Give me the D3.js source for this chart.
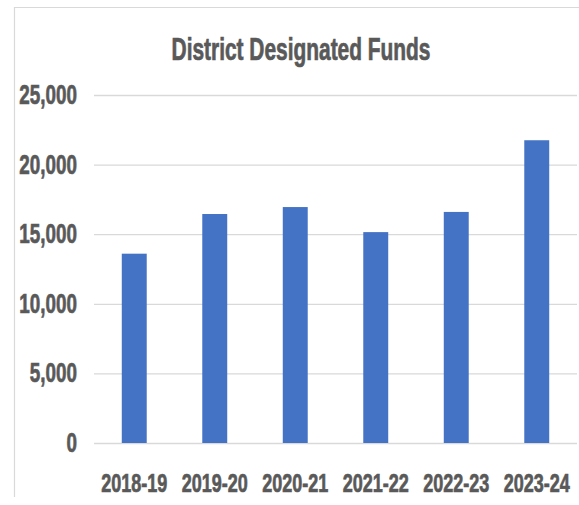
<!DOCTYPE html>
<html>
<head>
<meta charset="utf-8">
<script src="https://cdn.jsdelivr.net/npm/d3@7"></script>
<style>
  body { margin: 0; background: #fff; }
  text { font-family: "Liberation Sans", Arial, Helvetica, sans-serif; font-weight: bold; fill: #595959; stroke: #595959; stroke-width: 0.6px; }
</style>
</head>
<body>
<div id="viz"></div>
<script>
var title = "District Designated Funds";
var years = ["2018-19", "2019-20", "2020-21", "2021-22", "2022-23", "2023-24"];
var funds = [13600, 16450, 16950, 15150, 16600, 21750];
var yTicks = [0, 5000, 10000, 15000, 20000, 25000];

var w = 579,
    h = 505;

var svg = d3.select("#viz").append("svg")
    .attr("width", w)
    .attr("height", h);

// chart frame (cut off at right and bottom)
svg.append("path")
    .attr("d", "M14.5,497V7.5H579")
    .style("fill", "none")
    .style("stroke", "#d9d9d9")
    .style("stroke-width", 1.2);

var x = d3.scaleBand()
    .domain(years)
    .range([94, 577])
    .paddingInner(0.69)
    .paddingOuter(0.345);

var y = d3.scaleLinear()
    .domain([0, 25000])
    .range([443, 95]);

// narrow + tall look of the original font
var sx = 0.82, sy = 1.18;

// gridlines
svg.append("g")
    .attr("transform", "translate(94,0)")
    .call(d3.axisLeft(y).tickValues(yTicks).tickSize(-(577 - 94)).tickFormat(""))
    .call(function(g) {
      g.select(".domain").remove();
      g.selectAll("line").style("stroke", "#d9d9d9").style("stroke-width", 1.3);
    });

svg.selectAll(".bar")
    .data(funds)
    .enter().append("rect")
    .attr("class", "bar")
    .attr("x", function(d, i) { return x(years[i]); })
    .attr("width", x.bandwidth())
    .attr("y", function(d) { return y(d); })
    .attr("height", function(d) { return y(0) - y(d); })
    .style("fill", "#4472c4");

// y labels
svg.selectAll(".ylab")
    .data(yTicks)
    .enter().append("text")
    .attr("class", "ylab")
    .attr("transform", function(d) { return "translate(77," + (y(d) + 9) + ") scale(" + sx + "," + sy + ")"; })
    .attr("text-anchor", "end")
    .style("font-size", "23px")
    .text(d3.format(","));

// x labels
svg.selectAll(".xlab")
    .data(years)
    .enter().append("text")
    .attr("class", "xlab")
    .attr("transform", function(d) { return "translate(" + (x(d) + x.bandwidth() / 2) + ",492) scale(" + sx + "," + sy + ")"; })
    .attr("text-anchor", "middle")
    .style("font-size", "22px")
    .text(function(d) { return d; });

svg.append("text")
    .attr("transform", "translate(301,60) scale(" + sx + ",1.2)")
    .attr("text-anchor", "middle")
    .style("font-size", "25.5px")
    .text(title);
</script>
</body>
</html>
